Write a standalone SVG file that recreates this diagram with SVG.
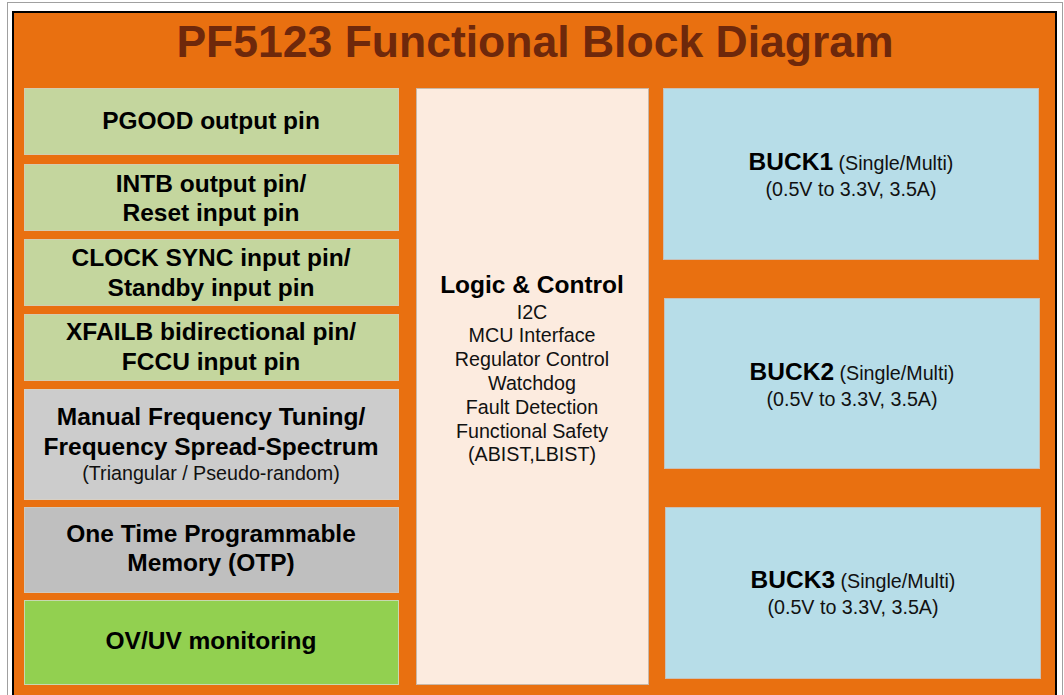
<svg xmlns="http://www.w3.org/2000/svg" width="1064" height="695" viewBox="0 0 1064 695">
<style>
.b{font-family:"Liberation Sans",Arial,sans-serif;font-weight:bold;font-size:24.5px;fill:#000;text-anchor:middle}
.r{font-family:"Liberation Sans",Arial,sans-serif;font-size:19.7px;fill:#111;text-anchor:middle}
.lg{fill:#c4d69e;stroke:#d4cbb0;stroke-width:1}
.gy1{fill:#cccccc;stroke:#d8d0c4;stroke-width:1}
.gy2{fill:#bfbfbf;stroke:#d0c8bc;stroke-width:1}
.gr{fill:#92d050;stroke:#c8d8b0;stroke-width:1}
.lc{fill:#fcebdf;stroke:#c9b8a8;stroke-width:1}
.bk{fill:#b7dde8;stroke:#c8c0b8;stroke-width:1}
.title{font-family:"Liberation Sans",Arial,sans-serif;font-weight:bold;font-size:44.5px;fill:#6e280b;text-anchor:middle}
</style>
<rect x="0" y="0" width="1064" height="695" fill="#ffffff"/>
<rect x="7.5" y="2.5" width="1055" height="700" fill="none" stroke="#a0a0a0" stroke-width="1"/>
<rect x="13" y="12" width="1043" height="690" fill="#e97010" stroke="#000" stroke-width="2"/>
<text class="title" x="535" y="57">PF5123 Functional Block Diagram</text>

<g id="pgood"><rect class="lg" x="24.5" y="88.5" width="374" height="66"/><text class="b" x="211" y="129">PGOOD output pin</text></g>
<g id="intb"><rect class="lg" x="24.5" y="164.5" width="374" height="66"/><text class="b" x="211" y="192">INTB output pin/</text><text class="b" x="211" y="221">Reset input pin</text></g>
<g id="clocksync"><rect class="lg" x="24.5" y="239.5" width="374" height="66"/><text class="b" x="211" y="266">CLOCK SYNC input pin/</text><text class="b" x="211" y="296">Standby input pin</text></g>
<g id="xfailb"><rect class="lg" x="24.5" y="314.5" width="374" height="66"/><text class="b" x="211" y="340">XFAILB bidirectional pin/</text><text class="b" x="211" y="370">FCCU input pin</text></g>
<g id="freq"><rect class="gy1" x="24.5" y="389.5" width="374" height="110"/><text class="b" x="211" y="425">Manual Frequency Tuning/</text><text class="b" x="211" y="455">Frequency Spread-Spectrum</text><text class="r" x="211" y="480">(Triangular / Pseudo-random)</text></g>
<g id="otp"><rect class="gy2" x="24.5" y="507.5" width="374" height="85"/><text class="b" x="211" y="542">One Time Programmable</text><text class="b" x="211" y="571">Memory (OTP)</text></g>
<g id="ovuv"><rect class="gr" x="24.5" y="600.5" width="374" height="84"/><text class="b" x="211" y="649">OV/UV monitoring</text></g>

<g id="logic"><rect class="lc" x="416.5" y="88.5" width="232" height="596"/>
<text class="b" x="532" y="293">Logic &amp; Control</text>
<text class="r" x="532" y="319">I2C</text>
<text class="r" x="532" y="342">MCU Interface</text>
<text class="r" x="532" y="366">Regulator Control</text>
<text class="r" x="532" y="390">Watchdog</text>
<text class="r" x="532" y="414">Fault Detection</text>
<text class="r" x="532" y="438">Functional Safety</text>
<text class="r" x="532" y="461">(ABIST,LBIST)</text>
</g>

<g id="buck1"><rect class="bk" x="663.5" y="88.5" width="375" height="171"/><text x="851" y="170" class="b"><tspan>BUCK1</tspan><tspan class="r" style="font-weight:normal;font-size:19.7px"> (Single/Multi)</tspan></text><text class="r" x="851" y="196">(0.5V to 3.3V, 3.5A)</text></g>
<g id="buck2"><rect class="bk" x="664.5" y="298.5" width="375" height="170"/><text x="852" y="380" class="b"><tspan>BUCK2</tspan><tspan class="r" style="font-weight:normal;font-size:19.7px"> (Single/Multi)</tspan></text><text class="r" x="852" y="406">(0.5V to 3.3V, 3.5A)</text></g>
<g id="buck3"><rect class="bk" x="665.5" y="507.5" width="375" height="171"/><text x="853" y="588" class="b"><tspan>BUCK3</tspan><tspan class="r" style="font-weight:normal;font-size:19.7px"> (Single/Multi)</tspan></text><text class="r" x="853" y="614">(0.5V to 3.3V, 3.5A)</text></g>

<g id="connectors"></g>
</svg>
